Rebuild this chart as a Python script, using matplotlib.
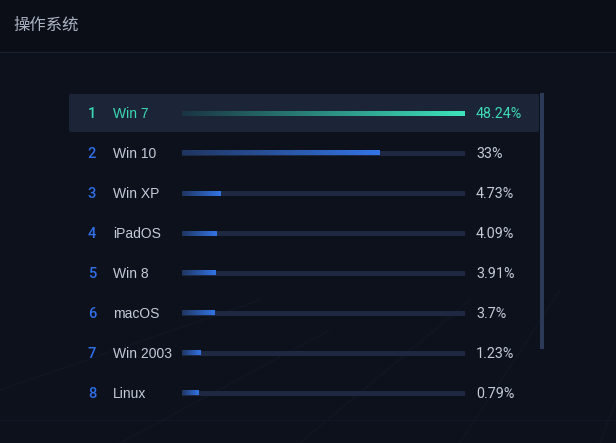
import numpy as np
import matplotlib.pyplot as plt
from matplotlib.patches import Rectangle, FancyBboxPatch
from matplotlib.colors import LinearSegmentedColormap

# datos
ranks = [1, 2, 3, 4, 5, 6, 7, 8]
names = ["Win 7", "Win 10", "Win XP", "iPadOS", "Win 8", "macOS", "Win 2003", "Linux"]
values = [48.24, 33, 4.73, 4.09, 3.91, 3.7, 1.23, 0.79]
labels = ["48.24%", "33%", "4.73%", "4.09%", "3.91%", "3.7%", "1.23%", "0.79%"]
title = "操作系统"

W, H = 616, 443
bg = "#0d111c"

fig = plt.figure(figsize=(W / 100, H / 100), dpi=100, facecolor=bg)
ax = fig.add_axes([0, 0, 1, 1])
ax.set_xlim(0, W)
ax.set_ylim(H, 0)
ax.axis("off")
ax.set_facecolor(bg)

# fondo: cabecera y lineas tenues en perspectiva
ax.add_patch(Rectangle((0, 0), W, 52, color="#0b0e17", zorder=0))
ax.plot([0, W], [52, 52], color="#1a1f2b", lw=1, zorder=1)
for (x0, y0, x1, y1) in [(0, 390, 260, 300), (120, 443, 330, 330), (300, 443, 470, 300),
                         (460, 443, 560, 290), (600, 443, 616, 400), (0, 420, 616, 420)]:
    ax.plot([x0, x1], [y0, y1], color="#111623", lw=1, zorder=0.5)

ax.text(13, 25, title, color="#aab2c2", fontsize=11.8, va="center", ha="left",
        family=["Noto Sans CJK SC", "DejaVu Sans"])

# fila resaltada y barra de desplazamiento
ax.add_patch(FancyBboxPatch((69, 94), 470, 38, boxstyle="round,pad=0,rounding_size=2",
                            color="#1c2438", lw=0, zorder=1))
ax.add_patch(Rectangle((540, 93), 4, 256, color="#2c3a58", lw=0, zorder=1))

track_x0, track_x1 = 182, 465
track_w = track_x1 - track_x0
base = 12
vmax = max(values)
row0, step = 113, 40

blue_cmap = LinearSegmentedColormap.from_list("b", ["#1f3560", "#3374e6"])
green_cmap = LinearSegmentedColormap.from_list("g", ["#1a3444", "#3de3bb"])
grad = np.linspace(0, 1, 256).reshape(1, -1)

for i, (r, n, v, lab) in enumerate(zip(ranks, names, values, labels)):
    y = row0 + i * step
    top = i == 0
    num_c = "#3ddbb4" if top else "#2f6fe8"
    txt_c = "#3ddbb4" if top else "#c3cad8"
    ax.text(92, y + 0.5, str(r), color=num_c, fontsize=10.5, fontweight="medium",
            ha="center", va="center", family="Roboto")
    ax.text(113, y + 0.5, n, color=txt_c, fontsize=10, ha="left", va="center", family="Liberation Sans")
    ax.add_patch(Rectangle((track_x0, y - 2.5), track_w, 5, color="#1f2841", lw=0, zorder=2))
    bw = base + v / vmax * (track_w - base)
    ax.imshow(grad, cmap=green_cmap if top else blue_cmap, aspect="auto",
              extent=[track_x0, track_x0 + bw, y + 2.5, y - 2.5], zorder=3, interpolation="bilinear")
    ax.text(476, y + 0.5, lab, color=txt_c, fontsize=10.3, ha="left", va="center", family="Roboto")

ax.set_xlim(0, W)
ax.set_ylim(H, 0)
fig.savefig("out.png", dpi=100, facecolor=bg)
